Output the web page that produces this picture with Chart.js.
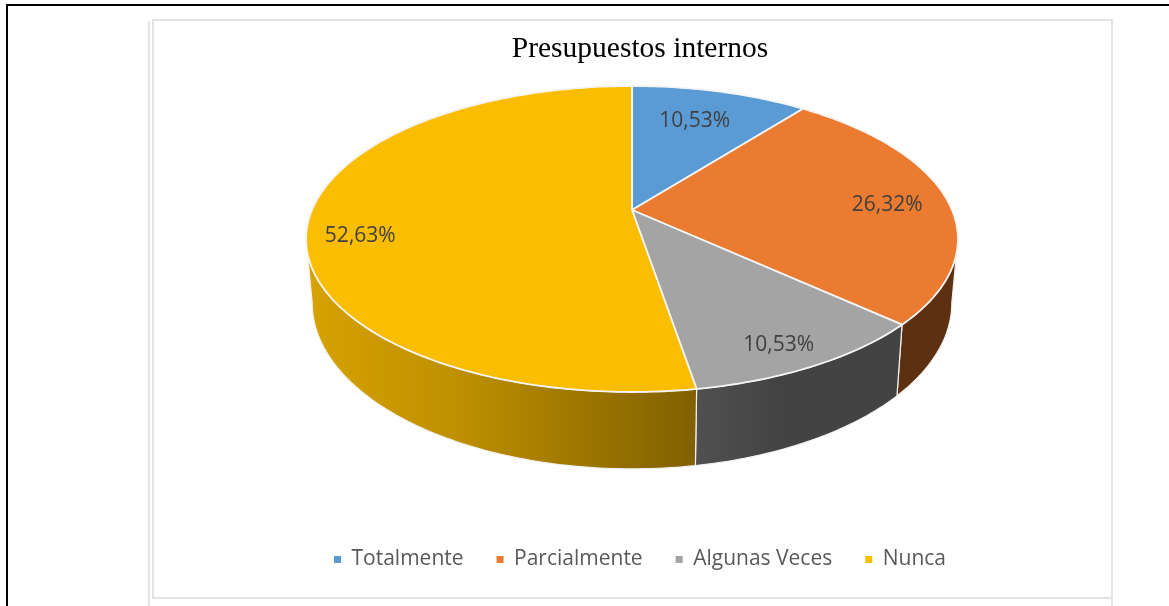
<!DOCTYPE html>
<html>
<head>
<meta charset="utf-8">
<script src="https://cdn.jsdelivr.net/npm/chart.js@4"></script>
<style>
  html, body { margin: 0; background: #fff; overflow: hidden; }
  #wrap { position: absolute; left: 0; top: 0; width: 1169px; height: 606px; }
  .ln { position: absolute; }
</style>
</head>
<body>
<div class="ln" style="left:6px;top:4px;width:1163px;height:2px;background:#000"></div>
<div class="ln" style="left:6px;top:4px;width:2px;height:602px;background:#000"></div>
<div class="ln" style="left:148px;top:21px;width:2px;height:585px;background:#e4e4e4"></div>
<div class="ln" style="left:152px;top:19px;width:2px;height:579px;background:#e4e4e4"></div>
<div class="ln" style="left:152px;top:19px;width:961px;height:2px;background:#e4e4e4"></div>
<div class="ln" style="left:1111px;top:19px;width:2px;height:587px;background:#e4e4e4"></div>
<div class="ln" style="left:152px;top:597px;width:959px;height:2px;background:#e4e4e4"></div>
<div id="wrap"><canvas id="pieChart"></canvas></div>
<script>
const categories = ["Totalmente", "Parcialmente", "Algunas Veces", "Nunca"];
const values = [10.53, 26.32, 10.53, 52.63];
const colors = ["#5b9bd5", "#ea7b30", "#a4a4a4", "#fbbd00"];
const wallColors = ["#2f5d8a", "#5e3012", "#444444", "#8a6700"];

// label placement along the slice radius, then a small nudge
const labelRadius = [0.75, 0.81, 0.85, 0.85];
const labelNudge = [[-6, 3], [0, 5], [-4, 7], [3, 16]];

// perspective of the top and bottom faces of the disc
const topFace = { cx: 632, k: 320, a: -107.7, b: 210, c: 0.1895 };
const lowFace = { cx: 632, k: 314, a: -108.4, b: 271.6, c: 0.1895 };

// only this part of the side wall faces the viewer (arc angles, 0 = east)
const wallStart = Math.acos(-topFace.c) - Math.PI / 2;
const wallEnd = 1.5 * Math.PI - Math.acos(-topFace.c);

function project(face, angle, r) {
  let u = r * Math.cos(angle);
  let v = -r * Math.sin(angle);
  let d = 1 + face.c * v;
  return { x: face.cx + face.k * u / d, y: (face.a * v + face.b) / d };
}

function trace(ctx, face, from, to) {
  let steps = Math.max(2, Math.ceil(Math.abs(to - from) * 60));
  for (let i = 0; i <= steps; i++) {
    let p = project(face, from + (to - from) * i / steps, 1);
    ctx.lineTo(p.x, p.y);
  }
}

function wallFill(ctx, i) {
  if (i === 3) {
    let g = ctx.createLinearGradient(310, 0, 696, 0);
    g.addColorStop(0, "#d6a200");
    g.addColorStop(0.36, "#c09100");
    g.addColorStop(1, "#806000");
    return g;
  }
  if (i === 2) {
    let g = ctx.createLinearGradient(697, 0, 780, 0);
    g.addColorStop(0, "#505050");
    g.addColorStop(1, "#434343");
    return g;
  }
  return wallColors[i];
}

const tiltedPie = {
  id: "tiltedPie",
  beforeDatasetDraw(chart) {
    const ctx = chart.ctx;
    const arcs = chart.getDatasetMeta(0).data;
    ctx.save();
    ctx.lineJoin = "round";

    arcs.forEach((arc, i) => {
      let from = Math.max(arc.startAngle, wallStart);
      let to = Math.min(arc.endAngle, wallEnd);
      if (to <= from) return;
      ctx.beginPath();
      trace(ctx, topFace, from, to);
      trace(ctx, lowFace, to, from);
      ctx.closePath();
      ctx.fillStyle = wallFill(ctx, i);
      ctx.fill();
      ctx.strokeStyle = "#f2f2f2";
      ctx.lineWidth = 1.2;
      ctx.stroke();
    });

    arcs.forEach((arc, i) => {
      const apex = project(topFace, 0, 0);
      ctx.beginPath();
      ctx.moveTo(apex.x, apex.y);
      trace(ctx, topFace, arc.startAngle, arc.endAngle);
      ctx.closePath();
      ctx.fillStyle = colors[i];
      ctx.fill();
      ctx.strokeStyle = "#f4f4f4";
      ctx.lineWidth = 1.8;
      ctx.stroke();
    });

    ctx.font = "21px 'Open Sans'";
    ctx.fillStyle = "#404040";
    ctx.textAlign = "center";
    ctx.textBaseline = "middle";
    arcs.forEach((arc, i) => {
      const mid = (arc.startAngle + arc.endAngle) / 2;
      const p = project(topFace, mid, labelRadius[i]);
      ctx.fillText(values[i].toFixed(2).replace(".", ",") + "%", p.x + labelNudge[i][0], p.y + labelNudge[i][1]);
    });
    ctx.restore();
    return false;
  }
};

new Chart(document.getElementById("pieChart"), {
  type: "pie",
  plugins: [tiltedPie],
  data: {
    labels: categories,
    datasets: [{ data: values, backgroundColor: colors, borderWidth: 0 }]
  },
  options: {
    responsive: true,
    maintainAspectRatio: false,
    animation: false,
    layout: { padding: { left: 111, top: 32, bottom: 26 } },
    plugins: {
      tooltip: { enabled: false },
      title: {
        display: true,
        text: "Presupuestos internos",
        color: "#000000",
        font: { family: "'Liberation Serif'", size: 29.5, weight: "normal" },
        padding: { top: 0, bottom: 4 }
      },
      legend: {
        position: "bottom",
        labels: {
          color: "#595959",
          font: { family: "'Open Sans'", size: 21 },
          usePointStyle: true,
          pointStyle: "rect",
          boxWidth: 7,
          boxHeight: 7,
          padding: 33
        }
      }
    }
  }
});
</script>
</body>
</html>
